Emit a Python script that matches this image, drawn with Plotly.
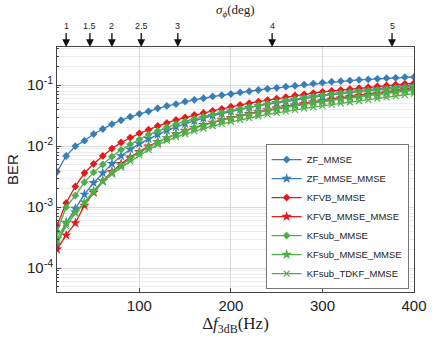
import plotly.graph_objects as go

# Delta f_3dB (Hz)
delta_f = [10, 20, 30, 40, 50, 60, 70, 80, 90, 100,
           110, 120, 130, 140, 150, 160, 170, 180, 190, 200,
           210, 220, 230, 240, 250, 260, 270, 280, 290, 300,
           310, 320, 330, 340, 350, 360, 370, 380, 390, 400]

zf_mmse = [0.0038, 0.0069, 0.0100, 0.0123, 0.0158, 0.0191, 0.0229, 0.0266, 0.0302, 0.0339,
           0.0372, 0.0417, 0.0457, 0.0490, 0.0537, 0.0575, 0.0610, 0.0653, 0.0684, 0.0716,
           0.0759, 0.0794, 0.0832, 0.0871, 0.0902, 0.0944, 0.0977, 0.102, 0.106, 0.110,
           0.114, 0.116, 0.119, 0.122, 0.124, 0.127, 0.130, 0.132, 0.135, 0.136]

zf_mmse_mmse = [0.00024, 0.00055, 0.00095, 0.00162, 0.00251, 0.00363, 0.00513, 0.00692, 0.00891, 0.0110,
                0.0132, 0.0155, 0.0182, 0.0209, 0.0234, 0.0260, 0.0288, 0.0316, 0.0343, 0.0372,
                0.0398, 0.0427, 0.0457, 0.0484, 0.0513, 0.0543, 0.0575, 0.0610, 0.0638, 0.0668,
                0.0700, 0.0733, 0.0767, 0.0794, 0.0822, 0.0851, 0.0881, 0.0912, 0.0944, 0.0977]

kfvb_mmse = [0.00050, 0.00117, 0.00219, 0.00363, 0.00513, 0.00692, 0.00912, 0.0115, 0.0138, 0.0162,
             0.0186, 0.0214, 0.0240, 0.0269, 0.0295, 0.0324, 0.0351, 0.0380, 0.0407, 0.0442,
             0.0473, 0.0507, 0.0537, 0.0569, 0.0603, 0.0638, 0.0676, 0.0708, 0.0741, 0.0776,
             0.0804, 0.0832, 0.0861, 0.0891, 0.0923, 0.0955, 0.0989, 0.102, 0.105, 0.108]

kfvb_mmse_mmse = [0.000204, 0.000347, 0.00055, 0.00107, 0.00174, 0.00269, 0.00380, 0.00513, 0.00661, 0.00813,
                  0.0100, 0.0117, 0.0138, 0.0158, 0.0180, 0.0202, 0.0224, 0.0245, 0.0269, 0.0292,
                  0.0316, 0.0339, 0.0363, 0.0389, 0.0417, 0.0442, 0.0468, 0.0495, 0.0525, 0.0550,
                  0.0582, 0.0610, 0.0638, 0.0668, 0.0700, 0.0733, 0.0767, 0.0804, 0.0841, 0.0881]

kfsub_mmse = [0.00040, 0.00100, 0.00155, 0.00257, 0.00372, 0.00501, 0.00676, 0.00871, 0.0107, 0.0129,
              0.0155, 0.0178, 0.0204, 0.0229, 0.0254, 0.0279, 0.0305, 0.0331, 0.0355, 0.0380,
              0.0407, 0.0437, 0.0468, 0.0495, 0.0525, 0.0556, 0.0589, 0.0617, 0.0646, 0.0676,
              0.0708, 0.0733, 0.0759, 0.0785, 0.0813, 0.0841, 0.0871, 0.0902, 0.0927, 0.0955]

kfsub_mmse_mmse = [0.00030, 0.00056, 0.00083, 0.00120, 0.00186, 0.00269, 0.00372, 0.00490, 0.00631, 0.00794,
                   0.00977, 0.0117, 0.0138, 0.0158, 0.0178, 0.0200, 0.0221, 0.0243, 0.0266, 0.0288,
                   0.0313, 0.0335, 0.0359, 0.0385, 0.0407, 0.0432, 0.0457, 0.0484, 0.0513, 0.0537,
                   0.0562, 0.0589, 0.0617, 0.0646, 0.0676, 0.0708, 0.0741, 0.0776, 0.0804, 0.0832]

kfsub_tdkf_mmse = [0.00026, 0.00049, 0.00079, 0.00115, 0.00170, 0.00257, 0.00347, 0.00447, 0.00562, 0.00708,
                   0.00871, 0.0105, 0.0123, 0.0141, 0.0158, 0.0176, 0.0195, 0.0214, 0.0232, 0.0251,
                   0.0269, 0.0288, 0.0309, 0.0331, 0.0351, 0.0372, 0.0394, 0.0417, 0.0437, 0.0457,
                   0.0479, 0.0501, 0.0525, 0.0550, 0.0575, 0.0603, 0.0631, 0.0661, 0.0692, 0.0724]

# top scale: sigma_phi (deg) marked at these Delta f positions (Hz)
sigma_labels = ["1", "1.5", "2", "2.5", "3", "4", "5"]
sigma_positions_hz = [20, 46, 70, 102, 142, 245, 376]

x_ticks = [100, 200, 300, 400]
y_ticks = [1e-4, 1e-3, 1e-2, 1e-1]
y_ticklabels = ["10<sup>-4</sup>", "10<sup>-3</sup>", "10<sup>-2</sup>", "10<sup>-1</sup>"]

BLUE = "#377eb8"
RED = "#e41a1c"
GREEN = "#4daf4a"

series = [
    ("ZF_MMSE", zf_mmse, BLUE, "diamond", 6),
    ("ZF_MMSE_MMSE", zf_mmse_mmse, BLUE, "star", 8),
    ("KFVB_MMSE", kfvb_mmse, RED, "diamond", 6),
    ("KFVB_MMSE_MMSE", kfvb_mmse_mmse, RED, "star", 8),
    ("KFsub_MMSE", kfsub_mmse, GREEN, "diamond", 6),
    ("KFsub_MMSE_MMSE", kfsub_mmse_mmse, GREEN, "star", 8),
    ("KFsub_TDKF_MMSE", kfsub_tdkf_mmse, GREEN, "x-thin-open", 6),
]

fig = go.Figure()
for name, ys, color, symbol, size in series:
    fig.add_trace(go.Scatter(
        x=delta_f, y=ys, name=name, mode="lines+markers",
        line=dict(color=color, width=1.3),
        marker=dict(color=color, symbol=symbol, size=size,
                    line=dict(color=color, width=1.2 if "x" in symbol else 0)),
    ))

minor_vals = [m * 10.0 ** e for e in range(-5, 0) for m in range(2, 10)]

fig.update_layout(
    width=439, height=340,
    margin=dict(l=48, r=15, t=47, b=36),
    paper_bgcolor="white", plot_bgcolor="white",
    font=dict(family="Liberation Sans, Arial, sans-serif", size=14, color="#222"),
    showlegend=True,
    legend=dict(
        x=0.985, y=0.012, xanchor="right", yanchor="bottom",
        bgcolor="white", bordercolor="#777", borderwidth=1,
        font=dict(size=9.5, color="#222"),
        tracegroupgap=0, itemwidth=30,
    ),
    xaxis=dict(
        range=[10, 400], tickvals=x_ticks, ticks="inside", ticklen=4,
        showgrid=True, gridcolor="#d9d9d9", gridwidth=1,
        showline=True, linecolor="#444", linewidth=1, mirror=True,
        zeroline=False, tickfont=dict(size=15),
        title=dict(text="Δ<i>f</i><sub>3dB</sub>(Hz)",
                   font=dict(family="Liberation Serif, DejaVu Serif, serif", size=17),
                   standoff=2),
    ),
    yaxis=dict(
        type="log", range=[-4.39, -0.375],
        tickvals=y_ticks, ticktext=y_ticklabels, ticks="inside", ticklen=4,
        showgrid=True, gridcolor="#d9d9d9", gridwidth=1,
        showline=True, linecolor="#444", linewidth=1, mirror=True,
        tickfont=dict(size=15),
        minor=dict(tickvals=minor_vals, showgrid=True, gridcolor="#ececec",
                   ticks="inside", ticklen=2, tickcolor="#444"),
        title=dict(text="BER", font=dict(size=15), standoff=4),
    ),
)

for lab, pos in zip(sigma_labels, sigma_positions_hz):
    fig.add_annotation(
        x=pos, y=1, xref="x", yref="paper",
        text=lab, showarrow=True, arrowhead=2, arrowsize=1.2, arrowwidth=1.3,
        arrowcolor="#111", ax=0, ay=-14, yanchor="bottom",
        font=dict(size=9, color="#222"),
    )

fig.add_annotation(
    x=0.5, y=1, xref="paper", yref="paper", yshift=26,
    text="<i>σ</i><sub><i>ϕ</i></sub>(deg)", showarrow=False, yanchor="bottom",
    font=dict(family="Liberation Serif, DejaVu Serif, serif", size=13, color="#222"),
)

fig.write_html("out.html")
